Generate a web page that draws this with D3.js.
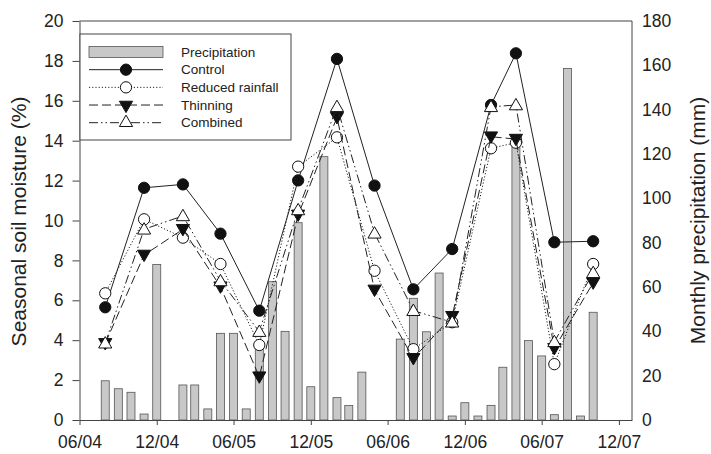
<!DOCTYPE html>
<html>
<head>
<meta charset="utf-8">
<script src="https://cdn.jsdelivr.net/npm/d3@7/dist/d3.min.js"></script>
<style>
  body { margin: 0; background: #fff; }
  svg { font-family: Arial, "Liberation Sans", sans-serif; }
</style>
</head>
<body>
<div id="chart"></div>
<script>
// monthly precipitation (mm), right axis
const precipMonths = ["2004-08","2004-09","2004-10","2004-11","2004-12",
  "2005-02","2005-03","2005-04","2005-05","2005-06","2005-07","2005-08","2005-09","2005-10","2005-11","2005-12",
  "2006-01","2006-02","2006-03","2006-04","2006-07","2006-08","2006-09","2006-10","2006-11","2006-12",
  "2007-01","2007-02","2007-03","2007-04","2007-05","2007-06","2007-07","2007-08","2007-09","2007-10"];
const precipMm = [17.7, 14.1, 12.5, 2.7, 70.2,
  15.8, 15.8, 5.0, 39.1, 39.1, 5.0, 34, 62.4, 40, 89, 15,
  118.8, 10.1, 6.5, 21.6, 36.5, 54.9, 39.8, 66.3, 1.8, 7.8,
  1.8, 6.6, 23.8, 125, 35.8, 28.9, 2.4, 158.6, 1.8, 48.6];

// seasonal soil moisture (%), left axis
const soilMonths = ["2004-08","2004-11","2005-02","2005-05","2005-08","2005-11","2006-02",
  "2006-05","2006-08","2006-11","2007-02","2007-04","2007-07","2007-10"];
const control  = [5.65, 11.64, 11.81, 9.34, 5.48, 12.01, 18.1, 11.75, 6.55, 8.57, 15.79, 18.38, 8.91, 8.96];
const reduced  = [6.35, 10.06, 9.14, 7.82, 3.76, 12.7, 14.17, 7.48, 3.55, 4.9, 13.62, 13.9, 2.8, 7.82];
const thinning = [3.84, 8.27, 9.56, 6.68, 2.17, 10.28, 15.17, 6.52, 3.09, 5.2, 14.2, 14.08, 3.59, 6.88];
const combined = [3.85, 9.56, 10.23, 6.97, 4.43, 10.53, 15.7, 9.36, 5.48, 4.9, 15.7, 15.79, 3.92, 7.38];

const xTickDates = ["2004-06","2004-12","2005-06","2005-12","2006-06","2006-12","2007-06","2007-12"];
const leftTicks = [0,2,4,6,8,10,12,14,16,18,20];
const rightTicks = [0,20,40,60,80,100,120,140,160,180];

const width = 711, height = 454;
const margin = {left: 79.5, right: 79, top: 21, bottom: 34};
const parse = d3.timeParse("%Y-%m");

const svg = d3.select("#chart").append("svg")
  .attr("width", width)
  .attr("height", height);

const x = d3.scaleTime()
  .domain([parse("2004-06"), parse("2008-01")])
  .range([margin.left, width - margin.right]);
const yL = d3.scaleLinear().domain([0, 20]).range([height - margin.bottom, margin.top]);
const yR = d3.scaleLinear().domain([0, 180]).range([height - margin.bottom, margin.top]);

const ink = "#222";

// bars
const barW = 8;
svg.selectAll("rect.bar")
  .data(precipMonths.map((m, i) => ({d: parse(m), v: precipMm[i]})))
  .enter().append("rect")
  .attr("class", "bar")
  .attr("x", d => x(d.d) - barW / 2)
  .attr("y", d => yR(d.v))
  .attr("width", barW)
  .attr("height", d => yR(0) - yR(d.v))
  .attr("fill", "#c8c8c8")
  .attr("stroke", "#555")
  .attr("stroke-width", 0.8);

// frame
svg.append("path")
  .attr("d", `M${x.range()[0]},${yL(20)}H${x.range()[1]}V${yL(0)}`)
  .attr("fill", "none").attr("stroke", "#444").attr("stroke-width", 1);

// axes
const xAxis = svg.append("g")
  .attr("transform", `translate(0,${yL(0)})`)
  .call(d3.axisBottom(x).tickValues(xTickDates.map(parse)).tickFormat(d3.timeFormat("%m/%y"))
    .tickSizeInner(5).tickSizeOuter(0).tickPadding(11));
const yAxisL = svg.append("g")
  .attr("transform", `translate(${x.range()[0]},0)`)
  .call(d3.axisLeft(yL).tickValues(leftTicks).tickSizeInner(7).tickSizeOuter(0).tickPadding(9));
const yAxisR = svg.append("g")
  .attr("transform", `translate(${x.range()[1]},0)`)
  .call(d3.axisRight(yR).tickValues(rightTicks).tickSizeInner(0).tickSizeOuter(0).tickPadding(10));

[xAxis, yAxisL, yAxisR].forEach(g => {
  g.selectAll("path.domain").attr("stroke", "#444");
  g.selectAll(".tick line").attr("stroke", "#444");
  g.selectAll("text").attr("fill", ink).style("font-size", "17.5px");
});
yAxisR.select("path.domain").remove();

svg.append("text")
  .attr("transform", `translate(18,${(yL(0) + yL(20)) / 2 + 1}) rotate(-90)`)
  .attr("text-anchor", "middle").attr("dominant-baseline", "central")
  .attr("fill", ink).style("font-size", "21px")
  .text("Seasonal soil moisture (%)");
svg.append("text")
  .attr("transform", `translate(697,${(yL(0) + yL(20)) / 2}) rotate(-90)`)
  .attr("text-anchor", "middle").attr("dominant-baseline", "central")
  .attr("fill", ink).style("font-size", "21px")
  .text("Monthly precipitation (mm)");

// series
const series = [
  {name: "Control", values: control, dash: null, shape: "circle", fill: "#111"},
  {name: "Reduced rainfall", values: reduced, dash: "1.2,2", shape: "circle", fill: "#fff"},
  {name: "Thinning", values: thinning, dash: "9,4", shape: "down", fill: "#111"},
  {name: "Combined", values: combined, dash: "9,3,1.5,3,1.5,3", shape: "up", fill: "#fff"}
];

function marker(sel, s) {
  const sym = s.shape === "circle" ? d3.symbol(d3.symbolCircle, 100) : d3.symbol(d3.symbolTriangle, 75);
  sel.attr("d", sym)
    .attr("fill", s.fill)
    .attr("stroke", "#111")
    .attr("stroke-width", 1);
}

const line = d3.line().x(d => x(d.d)).y(d => yL(d.v));

series.forEach(s => {
  const pts = soilMonths.map((m, i) => ({d: parse(m), v: s.values[i]}));
  svg.append("path")
    .datum(pts)
    .attr("d", line)
    .attr("fill", "none")
    .attr("stroke", "#222")
    .attr("stroke-width", 1)
    .attr("stroke-dasharray", s.dash);
  svg.selectAll(null)
    .data(pts)
    .enter().append("path")
    .call(marker, s)
    .attr("transform", d => `translate(${x(d.d)},${yL(d.v) + (s.shape === "up" ? 1 : s.shape === "down" ? -1 : 0)})` + (s.shape === "down" ? " rotate(180)" : ""));
});

// legend
const lg = svg.append("g");
lg.append("rect")
  .attr("x", 80).attr("y", 34).attr("width", 211).attr("height", 106)
  .attr("fill", "#fff").attr("stroke", "#444").attr("stroke-width", 1);
const sx0 = 89, sx1 = 163, tx = 181;
const rowY = d3.scaleLinear().domain([0, 4]).range([52, 122.7]);
lg.append("rect")
  .attr("x", sx0).attr("y", rowY(0) - 5.5).attr("width", sx1 - sx0).attr("height", 11)
  .attr("fill", "#c8c8c8").attr("stroke", "#555").attr("stroke-width", 0.8);
lg.append("text").attr("x", tx).attr("y", rowY(0)).attr("dominant-baseline", "central")
  .attr("fill", ink).style("font-size", "13.5px").text("Precipitation");
series.forEach((s, i) => {
  const yy = rowY(i + 1);
  lg.append("line").attr("x1", sx0).attr("x2", sx1).attr("y1", yy).attr("y2", yy)
    .attr("stroke", "#222").attr("stroke-width", 1).attr("stroke-dasharray", s.dash);
  lg.append("path").call(marker, s)
    .attr("transform", `translate(${(sx0 + sx1) / 2},${yy})` + (s.shape === "down" ? " rotate(180)" : ""));
  lg.append("text").attr("x", tx).attr("y", yy).attr("dominant-baseline", "central")
    .attr("fill", ink).style("font-size", "13.5px").text(s.name);
});
</script>
</body>
</html>
